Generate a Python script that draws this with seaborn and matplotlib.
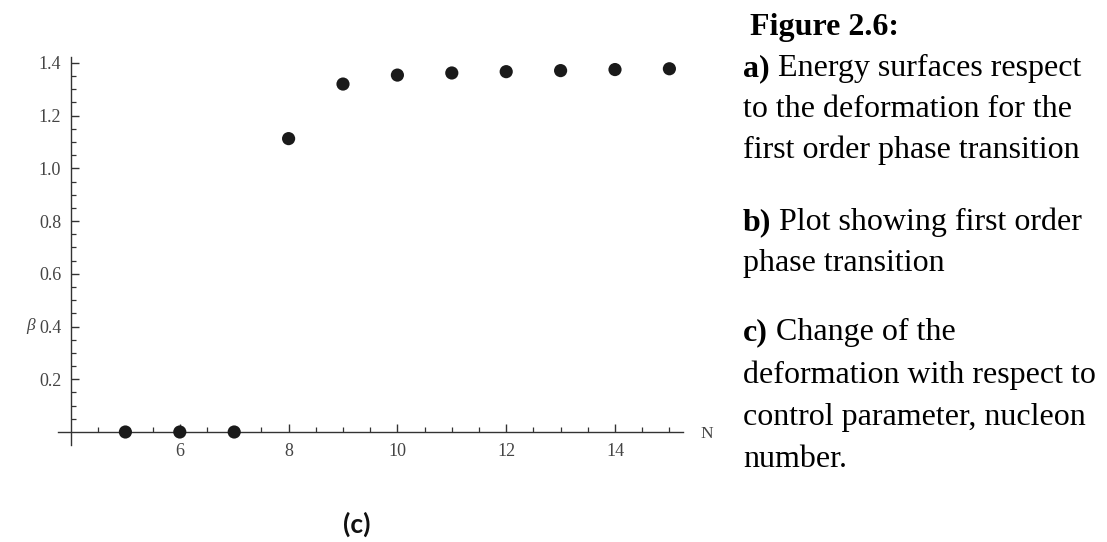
import numpy as np
import pandas as pd
import matplotlib
matplotlib.use("Agg")
import matplotlib.pyplot as plt
import seaborn as sns
from matplotlib.ticker import FixedLocator

# ---- data ----
N_values = [5, 6, 7, 8, 9, 10, 11, 12, 13, 14, 15]
beta_values = [0.0, 0.0, 0.0, 1.113, 1.320, 1.354, 1.362, 1.367, 1.371, 1.375, 1.378]
x_major_ticks = [6, 8, 10, 12, 14]
x_tick_labels = ["6", "8", "10", "12", "14"]
y_major_ticks = [0.2, 0.4, 0.6, 0.8, 1.0, 1.2, 1.4]
y_tick_labels = ["0.2", "0.4", "0.6", "0.8", "1.0", "1.2", "1.4"]
caption_lines = [
    ("Figure 2.6:", None),
    ("a)", " Energy surfaces respect"),
    ("", "to the deformation for the"),
    ("", "first order phase transition"),
    ("b)", " Plot showing first order"),
    ("", "phase transition"),
    ("c)", " Change of the"),
    ("", "deformation with respect to"),
    ("", "control parameter, nucleon"),
    ("", "number."),
]
caption_baselines = [35, 76, 117, 158, 230, 271, 340, 383, 425, 467]

df = pd.DataFrame({"N": N_values, "beta": beta_values})

sns.set_theme(style="white")
plt.rcParams['font.family'] = ['Liberation Serif', 'DejaVu Sans']

W, H = 1107, 542
fig = plt.figure(figsize=(W / 100, H / 100), dpi=100)
fig.patch.set_facecolor("white")

# axes frame in pixels
x0px, x1px = 58, 683
ytop, ybot = 57, 445
ax = fig.add_axes([x0px / W, 1 - ybot / H, (x1px - x0px) / W, (ybot - ytop) / H])
ax.set_facecolor("white")

sx = 54.4   # px per unit N
sy = 263.6  # px per unit beta
ax.set_xlim(4 - (71 - x0px) / sx, 4 + (x1px - 71) / sx)
ax.set_ylim(-(ybot - 432) / sy, (432 - ytop) / sy)

sns.scatterplot(data=df, x="N", y="beta", ax=ax, s=90, color="#1a1a1a",
                edgecolor="none", clip_on=False, zorder=5, legend=False)

axis_col = "#333333"
for side in ["top", "right"]:
    ax.spines[side].set_visible(False)
ax.spines["left"].set_position(("data", 4))
ax.spines["bottom"].set_position(("data", 0))
for side in ["left", "bottom"]:
    ax.spines[side].set_color(axis_col)
    ax.spines[side].set_linewidth(1.0)

ax.xaxis.set_major_locator(FixedLocator(x_major_ticks))
ax.set_xticklabels(x_tick_labels)
ax.yaxis.set_major_locator(FixedLocator(y_major_ticks))
ax.set_yticklabels(y_tick_labels)
ax.xaxis.set_minor_locator(FixedLocator([v for v in np.arange(4.5, 15.01, 0.5) if v not in x_major_ticks]))
ax.yaxis.set_minor_locator(FixedLocator([v for v in np.arange(0.05, 1.401, 0.05)
                                         if not any(abs(v - m) < 1e-6 for m in y_major_ticks)]))

ax.tick_params(axis="both", which="major", direction="in", length=6, width=1.0,
               color=axis_col, labelcolor="#444444", labelsize=13)
ax.tick_params(axis="both", which="minor", direction="in", length=3.5, width=0.9,
               color=axis_col)
ax.tick_params(axis="x", which="major", pad=8)
ax.tick_params(axis="y", which="major", pad=7)
ax.tick_params(bottom=True, left=True)
ax.tick_params(axis="x", which="minor", bottom=True)
ax.tick_params(axis="y", which="minor", left=True)
ax.set_xlabel("")
ax.set_ylabel("")

# axis labels
fig.text(700 / W, 1 - 434 / H, "N", fontsize=12.5, color="#444444", ha="left", va="center")
fig.text(31 / W, 1 - 326 / H, "β", fontsize=12.5, color="#444444", ha="center", va="center",
         style="italic")

# panel label
fig.text(357 / W, 1 - 524 / H, "(c)", fontsize=19, fontweight="bold", family=["Lato", "DejaVu Sans"],
         color="#111111", ha="center", va="center")

# caption text
cap_fs = 23
for (bold, rest), yb in zip(caption_lines, caption_baselines):
    if rest is None:
        fig.text(750 / W, 1 - yb / H, bold, fontsize=cap_fs, fontweight="bold",
                 ha="left", va="baseline", color="black")
        continue
    x = 743
    if bold:
        t = fig.text(x / W, 1 - yb / H, bold, fontsize=cap_fs, fontweight="bold",
                     ha="left", va="baseline", color="black")
        fig.canvas.draw()
        bb = t.get_window_extent()
        x = bb.x1
    fig.text(x / W, 1 - yb / H, rest, fontsize=cap_fs, ha="left", va="baseline", color="black")

fig.savefig("out.png", dpi=100, facecolor="white")
